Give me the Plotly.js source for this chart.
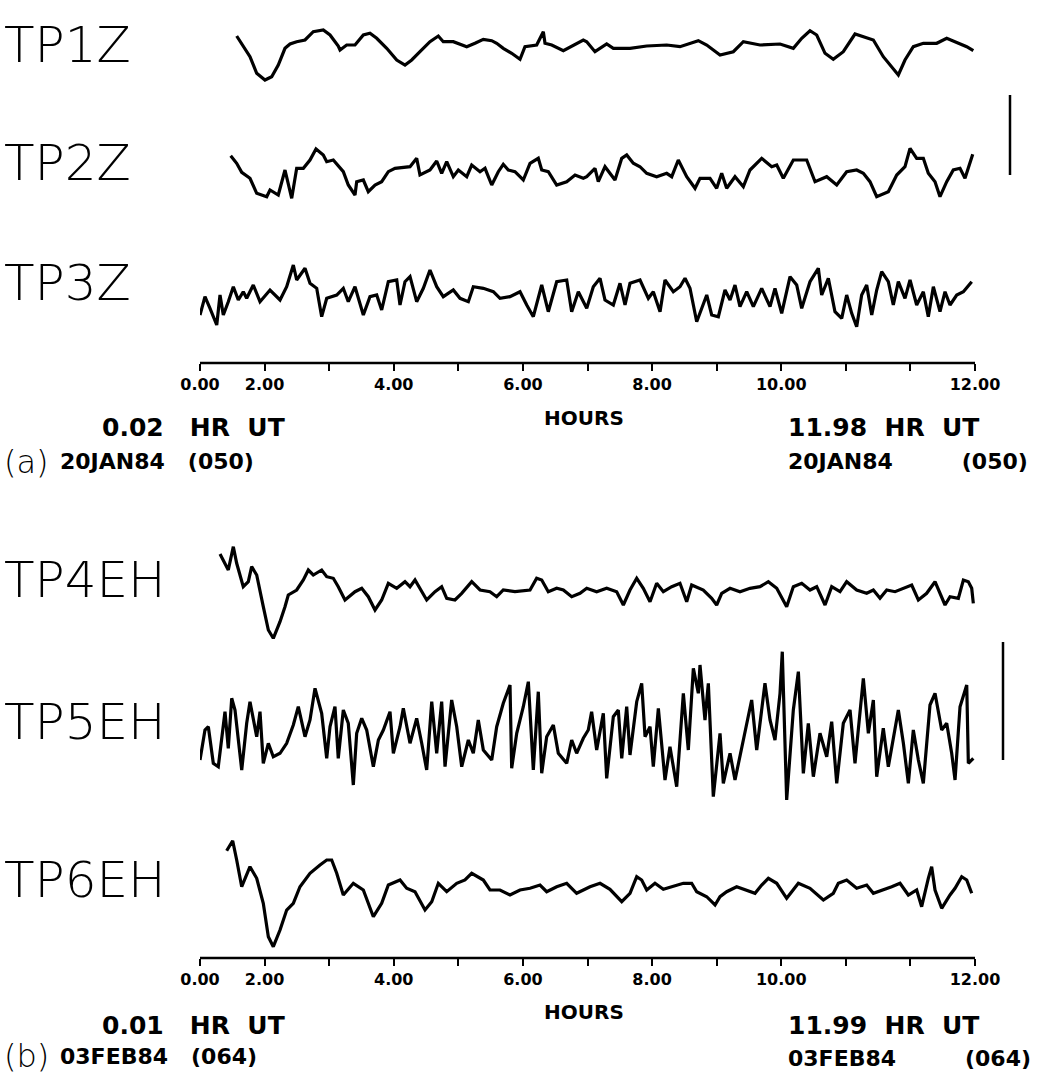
<!DOCTYPE html>
<html>
<head>
<meta charset="utf-8">
<script src="https://cdn.plot.ly/plotly-3.0.1.min.js"></script>
<style>html,body{margin:0;padding:0;background:#fff;}#chart{width:1041px;height:1075px;}</style>
</head>
<body>
<div id="chart"></div>
<script>
// ---------------- DATA (hours, relative amplitude) ----------------
const tp1zHours = [0.568,0.670,0.774,0.878,1.006,1.110,1.212,1.316,1.394,1.497,1.626,1.754,1.909,2.013,2.141,2.168,2.271,2.400,2.529,2.632,2.736,2.891,3.046,3.174,3.278,3.406,3.561,3.690,3.767,3.922,4.130,4.258,4.387,4.517,4.594,4.696,4.826,4.955,5.032,5.213,5.316,5.342,5.446,5.626,5.780,5.935,5.988,6.116,6.297,6.400,6.658,6.917,7.226,7.432,7.716,7.846,8.052,8.258,8.413,8.671,8.981,9.187,9.317,9.445,9.549,9.678,9.806,9.961,10.142,10.271,10.426,10.580,10.710,10.813,10.916,11.045,11.200,11.407,11.562,11.717,11.872,11.974];
const tp1zAmp   = [19,8.3,-1.7,-18.3,-25,-21.7,-10,6.7,11,13.3,15,23.3,25,20,9,5,10,10,20,21.7,16.7,6.7,-5,-10,-5,3.3,13.3,19,13.3,13.3,8.3,11.7,15.7,14.3,11.7,6.7,1.7,-4.3,8.3,10,23.3,11.7,10,4.3,10,15,13.3,3.3,11,6.7,6.7,9,10,8.3,14.3,10,0,3.3,13.3,10,11,6.7,16.7,24.3,20,1.7,-4.3,3.3,21,18.3,15,-1.7,-11.7,-20,-5,8.3,11.7,11.7,16.7,12.3,8.3,4.3];

const tp2zHours = [0.475,0.568,0.646,0.774,0.878,1.033,1.084,1.212,1.316,1.420,1.497,1.600,1.703,1.796,1.909,1.962,2.064,2.219,2.296,2.400,2.426,2.529,2.606,2.710,2.813,2.916,3.019,3.252,3.355,3.406,3.561,3.665,3.742,3.820,3.922,4.000,4.130,4.207,4.336,4.413,4.517,4.619,4.696,4.774,4.877,5.006,5.110,5.238,5.291,5.393,5.523,5.678,5.807,5.935,5.988,6.116,6.167,6.271,6.426,6.530,6.607,6.709,6.813,6.917,7.071,7.226,7.304,7.406,7.536,7.665,7.742,7.897,8.000,8.078,8.155,8.284,8.413,8.516,8.697,8.852,8.930,9.032,9.187,9.394,9.523,9.704,9.859,10.013,10.168,10.271,10.374,10.478,10.658,10.788,10.916,10.994,11.097,11.200,11.277,11.381,11.458,11.562,11.664,11.768,11.845,11.897,11.965];
const tp2zAmp   = [19.3,11.7,2.7,-3.3,-18.3,-21.7,-15,-20,5,-23.3,6.7,6.7,15,26,20,13.3,15,3.3,-10,-20,-6.7,-5,-16.7,-10,-6.7,3.3,6.7,8.3,16.7,0,5,14,1.7,13.3,-1.7,5,-1.7,10,3.3,6.7,-10,3.3,10.7,5,3.3,-5,11.7,16.7,5,3.3,-10,-6.7,0,-3.3,-1.7,6.7,-6.7,8.3,-5,16.7,20,11.7,8.3,1.7,-1.7,1.7,-1.7,15,-1.7,-13.3,-3.3,-3.3,-13.3,1.7,-13.3,-1.7,-11.7,5,16.7,8.3,10,-3.3,15,15,-6.7,-1.7,-10,3.3,5,1.7,-6.7,-21.7,-16.7,0,8.3,26.7,16.7,16.7,1.7,-6.7,-21.7,-6.7,5,6.7,-3.3,6.7,20.7];

const tp3zHours = [0.000,0.077,0.155,0.259,0.310,0.361,0.438,0.516,0.593,0.670,0.723,0.825,0.929,1.084,1.239,1.342,1.445,1.497,1.626,1.703,1.807,1.884,1.962,2.117,2.219,2.296,2.400,2.529,2.632,2.736,2.813,2.916,3.046,3.097,3.174,3.252,3.355,3.458,3.561,3.665,3.767,3.922,4.026,4.155,4.232,4.387,4.542,4.645,4.800,4.955,5.059,5.161,5.291,5.393,5.523,5.678,5.755,5.858,5.988,6.090,6.194,6.271,6.400,6.503,6.581,6.658,6.813,6.942,7.019,7.123,7.200,7.329,7.432,7.510,7.587,7.691,7.846,7.923,8.026,8.129,8.207,8.284,8.361,8.465,8.568,8.697,8.826,8.903,9.007,9.136,9.239,9.317,9.445,9.574,9.626,9.729,9.832,9.936,10.013,10.091,10.168,10.245,10.323,10.401,10.478,10.555,10.658,10.735,10.813,10.916,10.994,11.097,11.200,11.277,11.355,11.458,11.536,11.613,11.717,11.820,11.949];
const tp3zAmp   = [-20,-1.7,-13.3,-30,0,-20,-6.7,8.3,-5,3.3,-3.3,10,-6.7,5,-5,8.3,30,15,26.7,11.7,6.7,-21.7,-3.3,0,6.7,-6.7,8.3,-20,-1.7,0,-15,13.3,15,-10,13.3,18.3,-6.7,6.7,25,8.3,-1.7,5,-3.3,-6.7,8.3,6.7,3.3,-3.3,-1.7,3.3,-10,-21.7,10,-16.7,13.3,15,-16.7,3.3,-13.3,8.3,16.7,-5,-10,11.7,-10,11.7,15,-3.3,3.3,-16.7,15,3.3,8.3,16.7,6.7,-26.7,0,-20,-21.7,5,-5,10,-11.7,3.3,-11.7,6.7,-11.7,6.7,-18.3,18.3,10,-13.3,13.3,26.7,0,16.7,-16.7,-23.3,0,-18.3,-31.7,0,10,-20,5,23.3,13.3,-10,13.3,-3.3,15,-10,3.3,-21.7,8.3,-16.7,3.3,-10,0,3.3,13.3];

const tp4ehHours = [0.310,0.438,0.516,0.568,0.670,0.748,0.800,0.878,0.980,1.058,1.135,1.239,1.316,1.367,1.497,1.600,1.677,1.754,1.884,1.962,2.064,2.141,2.245,2.400,2.504,2.606,2.710,2.813,2.916,3.046,3.174,3.252,3.329,3.406,3.510,3.639,3.742,3.820,3.948,4.052,4.207,4.336,4.490,4.594,4.696,4.877,5.110,5.213,5.291,5.393,5.523,5.626,5.755,5.884,5.988,6.142,6.297,6.452,6.555,6.658,6.762,6.864,6.968,7.071,7.174,7.304,7.432,7.536,7.613,7.793,7.923,8.000,8.078,8.207,8.361,8.516,8.671,8.800,8.930,9.084,9.187,9.317,9.445,9.549,9.678,9.781,9.910,10.013,10.168,10.323,10.426,10.529,10.633,10.762,10.891,11.020,11.123,11.252,11.381,11.536,11.613,11.742,11.820,11.897,11.949,11.974];
const tp4ehAmp   = [36,20,43.3,26.7,3.3,8.3,23.3,15,-16.7,-40,-48.3,-31.7,-16.7,-5,0,10,20,15,20,13.3,11.7,3.3,-10,-1.7,1.7,-6.7,-20,-10,6.7,1.7,8.3,3.3,10,1.7,-10,-1.7,3.3,-8.3,-10,-3.3,8.3,0,-1.7,-6.7,0,-1.7,0,11.7,10,-1.7,1.7,0,-6.7,-3.3,1.7,-1.7,1.7,-1.7,-15,0,11.7,1.7,-11.7,6.7,-1.7,3.3,6.7,-11.7,5,0,-8.3,-15,-3.3,1.7,-1.7,1.7,3.3,8.3,1.7,-16.7,3.3,6.7,0,3.3,-15,3.3,-1.7,8.3,0,-3.3,0,-8.3,0,-1.7,1.7,5,-10,-3.3,8.3,-15,-6.7,-8.3,10,8.3,1.7,-13.3];

const tp5ehHours = [0.000,0.077,0.129,0.206,0.283,0.387,0.438,0.491,0.542,0.646,0.723,0.774,0.878,0.929,0.980,1.058,1.135,1.239,1.342,1.445,1.522,1.626,1.703,1.781,1.884,1.962,2.013,2.090,2.141,2.219,2.296,2.374,2.426,2.504,2.581,2.684,2.762,2.839,2.942,2.994,3.097,3.148,3.252,3.355,3.433,3.510,3.588,3.665,3.742,3.794,3.897,3.975,4.052,4.155,4.232,4.309,4.387,4.517,4.594,4.696,4.800,4.826,4.904,5.006,5.084,5.161,5.238,5.291,5.368,5.471,5.548,5.678,5.755,5.832,5.935,6.012,6.064,6.142,6.245,6.297,6.400,6.477,6.530,6.607,6.658,6.762,6.839,6.891,6.968,7.019,7.097,7.200,7.277,7.381,7.484,7.561,7.639,7.716,7.742,7.819,7.871,7.948,8.052,8.103,8.207,8.284,8.413,8.542,8.620,8.748,8.826,8.903,8.981,9.016,9.084,9.187,9.265,9.342,9.419,9.497,9.600,9.704,9.781,9.859,9.961,10.065,10.142,10.271,10.349,10.426,10.478,10.580,10.658,10.813,10.891,10.968,11.045,11.123,11.200,11.303,11.381,11.484,11.562,11.639,11.691,11.768,11.872,11.897,11.974];
const tp5ehAmp   = [-25,5,8.3,-28.3,-31.7,23.3,-13.3,36.7,25,-35,11.7,33.3,-1.7,23.3,-28.3,-8.3,-21.7,-18.3,-8.3,10,28.3,-1.7,15,46.7,21.7,-23.3,8.3,28.3,-23.3,25,11.7,-50,1.7,16.7,5,-31.7,-5,5,23.3,-18.3,8.3,26.7,-8.3,16.7,-8.3,-35,33.3,-18.3,33.3,-31.7,35,8.3,-31.7,-5,-18.3,15,-15,-25,8.3,31.7,50,-33.3,1.7,28.3,53.3,-35,43.3,-38.3,-1.7,10,-18.3,-28.3,-5,-18.3,-3.3,5,23.3,-15,21.7,-43.3,18.3,25,-23.3,28.3,-20,33.3,51.7,-1.7,8.3,-31.7,26.7,-45,-11.7,-51.7,41.7,-15,66.7,41.7,70,15,51.7,-61.7,1.7,-48.3,-18.3,-45,-5,35,-15,51.7,15,-5,41.7,83.3,-65,25,63.3,-38.3,11.7,-41.7,1.7,-21.7,13.3,-48.3,11.7,25,-28.3,56.7,1.7,35,-41.7,6.7,-31.7,25,-8.3,-48.3,5,-25,-48.3,30,41.7,5,11.7,-18.3,-45,28.3,50,-28.3,-23.3];

const tp6ehHours = [0.413,0.506,0.568,0.646,0.774,0.878,0.980,1.058,1.135,1.239,1.342,1.445,1.548,1.703,1.858,1.962,2.039,2.117,2.219,2.374,2.529,2.684,2.813,2.916,3.097,3.200,3.329,3.484,3.588,3.690,3.820,3.975,4.103,4.207,4.387,4.490,4.645,4.800,4.955,5.110,5.265,5.368,5.523,5.678,5.832,6.039,6.194,6.348,6.530,6.658,6.762,6.839,6.917,7.045,7.174,7.329,7.484,7.613,7.691,7.846,7.975,8.052,8.155,8.310,8.465,8.594,8.697,8.800,8.930,9.084,9.265,9.445,9.652,9.806,9.884,10.013,10.168,10.323,10.426,10.580,10.710,10.839,10.968,11.097,11.174,11.277,11.329,11.381,11.484,11.613,11.691,11.794,11.872,11.949];
const tp6ehAmp   = [39.3,49.3,30,3.3,23.3,11.7,-13.3,-46.7,-56.7,-40,-20,-13.3,3.3,16.7,25,30,30,16.7,-5,6.7,0,-26.7,-13.3,5,10,1.7,-1.7,-20,-11.7,6.7,-1.7,6.7,10,16.7,10,0,0,-5,0,1.7,5,-1.7,3.3,6.7,-3.3,3.3,6.7,0.7,-11.7,-3.3,13.3,10,0,6.7,0.7,3.3,6.7,6.7,-1.7,-6.7,-15,-6.7,-1.7,3.3,0,-3.3,5,11.7,6.7,-8.3,6.7,1.7,-10,-3.3,6.7,10,1.7,5,-3.3,0,3.3,6.7,-5,0,-16.7,11.7,23.3,0,-18.3,-5,1.7,13.3,10,-3.3];

const stationNames = ["TP1Z","TP2Z","TP3Z","TP4EH","TP5EH","TP6EH"];
const tickHours = [0,1,2,3,4,5,6,7,8,9,10,11,12];
const tickText  = ["0.00","2.00","","4.00","","6.00","","8.00","","10.00","","","12.00"];

// ---------------- LAYOUT CONSTANTS ----------------
const W = 1041, H = 1075;
const X0 = 200, X1 = 975;               // axis pixel extent
const halfH = [50, 50, 50, 80, 95, 80];  // half-height (px) of each trace strip; 1 unit = 1 px
const centers = [55, 175, 295, 590, 735, 890];
const axisY = [363, 958];
const py = p => 1 - p / H;
const px = p => p / W;

const series = [
  [tp1zHours, tp1zAmp, 0], [tp2zHours, tp2zAmp, 0], [tp3zHours, tp3zAmp, 0],
  [tp4ehHours, tp4ehAmp, 1], [tp5ehHours, tp5ehAmp, 1], [tp6ehHours, tp6ehAmp, 1]
];

const data = series.map((s, i) => ({
  type: 'scatter', mode: 'lines',
  x: s[0], y: s[1],
  xaxis: s[2] === 0 ? 'x' : 'x2',
  yaxis: 'y' + (i === 0 ? '' : (i + 1)),
  line: {color: '#000', width: 3.2, shape: 'linear'},
  hoverinfo: 'skip', showlegend: false
}));

const xaxisBase = (pos) => ({
  domain: [px(X0), px(X1)], range: [0, 12], anchor: 'free', position: py(pos),
  showgrid: false, zeroline: false, showline: false,
  ticks: 'outside', ticklen: 7, tickwidth: 2, tickcolor: '#000',
  tickmode: 'array', tickvals: tickHours, ticktext: tickText,
  tickfont: {family: 'DejaVu Sans', size: 16, color: '#000', weight: 'bold'},
  fixedrange: true
});

const layout = {
  width: W, height: H,
  margin: {l: 0, r: 0, t: 0, b: 0, pad: 0},
  paper_bgcolor: '#fff', plot_bgcolor: 'rgba(0,0,0,0)',
  showlegend: false,
  xaxis: xaxisBase(axisY[0]),
  xaxis2: xaxisBase(axisY[1]),
  annotations: [], shapes: []
};

centers.forEach((c, i) => {
  const key = 'yaxis' + (i === 0 ? '' : (i + 1));
  const R = halfH[i];
  layout[key] = {
    domain: [py(c + R), py(c - R)], range: [-R, R],
    visible: false, fixedrange: true, anchor: i < 3 ? 'x' : 'x2'
  };
});

// axis lines (0 to 12 h)
['x', 'x2'].forEach((ax, k) => layout.shapes.push({
  type: 'line', xref: ax, yref: 'paper', x0: 0, x1: 12, y0: py(axisY[k]), y1: py(axisY[k]),
  line: {color: '#000', width: 2.5}
}));

// station labels
const labelY = [45, 163, 283, 580, 722, 880];
stationNames.forEach((n, i) => {
  layout.annotations.push({
    text: n, xref: 'paper', yref: 'paper', x: px(2), y: py(labelY[i]),
    xanchor: 'left', yanchor: 'middle', showarrow: false,
    font: {family: 'DejaVu Sans', size: 50, color: '#000', weight: 200}
  });
});

const txt = (t, x, y, size, opts = {}) => layout.annotations.push(Object.assign({
  text: t, xref: 'paper', yref: 'paper', x: px(x), y: py(y),
  xanchor: 'left', yanchor: 'middle', showarrow: false,
  font: {family: 'DejaVu Sans', size: size, color: '#000', weight: 'bold'}
}, opts));

const sp = n => '&nbsp;'.repeat(n);
// panel (a)
txt('HOURS', 584, 418, 20, {xanchor: 'center'});
txt('0.02' + sp(3) + 'HR' + sp(2) + 'UT', 100, 428, 25);
txt('20JAN84' + sp(3) + '(050)', 58, 461, 22);
txt('(a)', 2, 462, 30, {font: {family: 'DejaVu Sans', size: 32, color: '#000', weight: 200}});
txt('11.98' + sp(2) + 'HR' + sp(2) + 'UT', 786, 428, 25);
txt('20JAN84' + sp(9) + '(050)', 786, 461, 22);
// panel (b)
txt('HOURS', 584, 1012, 20, {xanchor: 'center'});
txt('0.01' + sp(3) + 'HR' + sp(2) + 'UT', 100, 1025, 25);
txt('03FEB84' + sp(3) + '(064)', 58, 1056, 22);
txt('(b)', 2, 1056, 30, {font: {family: 'DejaVu Sans', size: 32, color: '#000', weight: 200}});
txt('11.99' + sp(2) + 'HR' + sp(2) + 'UT', 786, 1025, 25);
txt('03FEB84' + sp(9) + '(064)', 786, 1058, 22);

// amplitude scale bars
layout.shapes.push({type: 'line', xref: 'paper', yref: 'paper', x0: px(1010), x1: px(1010), y0: py(95), y1: py(175), line: {color: '#000', width: 2.5}});
layout.shapes.push({type: 'line', xref: 'paper', yref: 'paper', x0: px(1003), x1: px(1003), y0: py(642), y1: py(760), line: {color: '#000', width: 2.5}});

Plotly.newPlot('chart', data, layout, {staticPlot: true, displayModeBar: false});
</script>
</body>
</html>
